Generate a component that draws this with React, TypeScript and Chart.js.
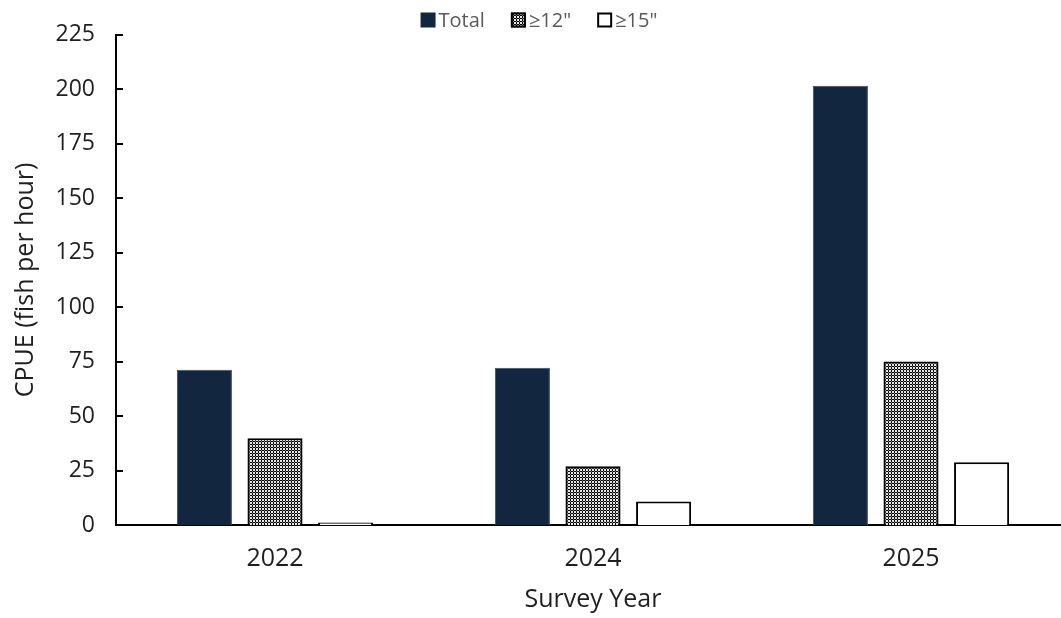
import React, { useEffect, useRef } from "react";
import { Chart, registerables } from "chart.js";

Chart.register(...registerables);

const categories = ["2022", "2024", "2025"];
const seriesNames = ["Total", "≥12\"", "≥15\""];
const totalValues = [71.3, 72.2, 201.6];
const over12Values = [39.8, 27.0, 75.0];
const over15Values = [1.2, 10.8, 28.8];
const yTicks = [0, 25, 50, 75, 100, 125, 150, 175, 200, 225];

const FONT = "'Open Sans', Arial, sans-serif";
const NAVY = "#12263F";
const TEXT = "#1f1f1f";

function makePattern(): CanvasPattern | string {
  const c = document.createElement("canvas");
  c.width = 3;
  c.height = 3;
  const ctx = c.getContext("2d");
  if (!ctx) return "#888";
  ctx.fillStyle = "#000000";
  ctx.fillRect(0, 0, 3, 3);
  ctx.fillStyle = "#e6e6e6";
  ctx.fillRect(1, 1, 2, 2);
  ctx.fillStyle = "#777777";
  ctx.fillRect(0, 0, 1, 1);
  const p = ctx.createPattern(c, "repeat");
  return p || "#888";
}

export default function App() {
  const ref = useRef<HTMLCanvasElement>(null);

  useEffect(() => {
    document.body.style.margin = "0";
    const canvas = ref.current;
    if (!canvas) return;
    const pattern = makePattern();

    const innerTicks = {
      id: "innerTicks",
      afterDraw(chart: any) {
        const ctx = chart.ctx;
        const y = chart.scales.y;
        const left = chart.chartArea.left;
        ctx.save();
        ctx.strokeStyle = "#000";
        ctx.lineWidth = 2;
        for (const v of yTicks) {
          const py = Math.round(y.getPixelForValue(v));
          ctx.beginPath();
          ctx.moveTo(left, py);
          ctx.lineTo(left + 7, py);
          ctx.stroke();
        }
        ctx.restore();
      },
    };

    const customLegend = {
      id: "customLegend",
      afterDraw(chart: any) {
        const ctx = chart.ctx;
        ctx.save();
        ctx.font = `20px ${FONT}`;
        ctx.textBaseline = "middle";
        const box = 15;
        const gapBoxText = 3;
        const gapItems = 26;
        const widths = seriesNames.map((n) => box + gapBoxText + ctx.measureText(n).width);
        const total = widths.reduce((a, b) => a + b, 0) + gapItems * (seriesNames.length - 1);
        let x = 539 - total / 2;
        const cy = 20;
        seriesNames.forEach((n, i) => {
          const ds = chart.data.datasets[i];
          ctx.fillStyle = ds.backgroundColor;
          ctx.fillRect(x, cy - box / 2, box, box);
          if (i > 0) {
            ctx.strokeStyle = "#000";
            ctx.lineWidth = 2;
            ctx.strokeRect(x + 1, cy - box / 2 + 1, box - 2, box - 2);
          }
          ctx.fillStyle = "#595959";
          ctx.fillText(n, x + box + gapBoxText, cy + 1);
          x += widths[i] + gapItems;
        });
        ctx.restore();
      },
    };

    const chart = new Chart(canvas, {
      type: "bar",
      data: {
        labels: categories,
        datasets: [
          {
            label: seriesNames[0],
            data: totalValues,
            backgroundColor: NAVY,
            borderColor: "#3a4d66",
            borderWidth: 1,
            categoryPercentage: 0.666,
            barPercentage: 0.78,
          },
          {
            label: seriesNames[1],
            data: over12Values,
            backgroundColor: pattern as any,
            borderColor: "#000",
            borderWidth: 2,
            categoryPercentage: 0.666,
            barPercentage: 0.78,
          },
          {
            label: seriesNames[2],
            data: over15Values,
            backgroundColor: "#ffffff",
            borderColor: "#000",
            borderWidth: 2,
            categoryPercentage: 0.666,
            barPercentage: 0.78,
          },
        ],
      },
      options: {
        animation: false,
        responsive: false,
        layout: { padding: { top: 31, left: 0, right: 0, bottom: 0 } },
        plugins: {
          legend: { display: false },
          tooltip: { enabled: false },
        },
        scales: {
          x: {
            grid: { display: false, drawTicks: false },
            border: { display: true, color: "#000", width: 2 },
            ticks: {
              color: TEXT,
              font: { family: FONT, size: 25 },
              padding: 19,
            },
            title: {
              display: true,
              text: "Survey Year",
              color: TEXT,
              font: { family: FONT, size: 25 },
              padding: { top: 2, bottom: 3 },
            },
            afterFit(scale: any) {
              scale.height = 93;
            },
          },
          y: {
            min: 0,
            max: 225,
            afterBuildTicks(scale: any) {
              scale.ticks = yTicks.map((v) => ({ value: v }));
            },
            grid: { display: false, drawTicks: false },
            border: { display: true, color: "#000", width: 2 },
            ticks: {
              color: TEXT,
              font: { family: FONT, size: 23 },
              padding: 21,
            },
            title: {
              display: true,
              text: "CPUE (fish per hour)",
              color: TEXT,
              font: { family: FONT, size: 25 },
              padding: { top: 11, bottom: 0 },
            },
            afterFit(scale: any) {
              scale.width = 116;
            },
          },
        },
      },
      plugins: [innerTicks, customLegend],
    });

    return () => chart.destroy();
  }, []);

  return (
    <div style={{ width: 1061, height: 618, overflow: "hidden" }}>
      <canvas ref={ref} width={1070} height={618} style={{ display: "block" }} />
    </div>
  );
}
